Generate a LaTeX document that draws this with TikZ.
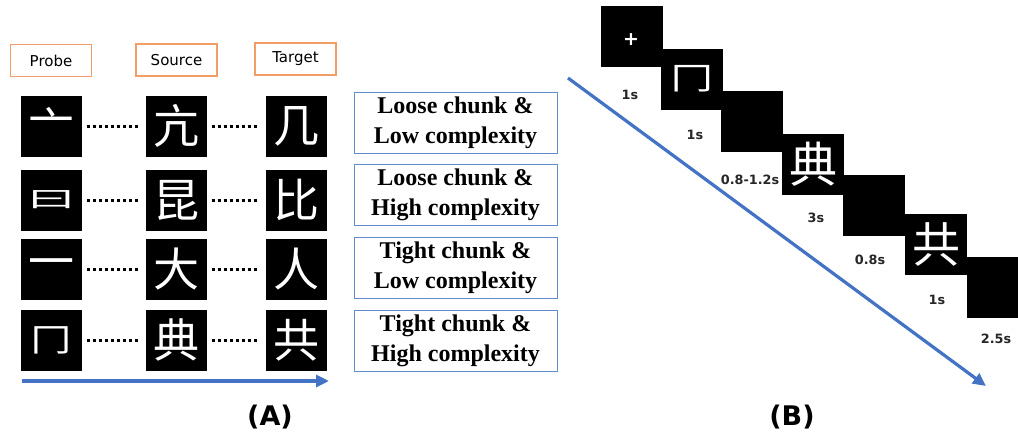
\documentclass[tikz,border=0pt]{standalone}
\usepackage{fontspec}
\setmainfont{Liberation Serif}
\newfontfamily\dvs{DejaVu Sans}
\newfontfamily\cjk{Noto Sans CJK SC}
\usetikzlibrary{arrows.meta}
\definecolor{arrowblue}{RGB}{68,114,196}
\definecolor{boxblue}{RGB}{100,140,205}
\definecolor{lblorange}{RGB}{241,157,101}
\tikzset{
  blk/.style={fill=black, text=white, inner sep=0pt, minimum width=61pt, minimum height=61pt, font=\cjk\fontsize{46}{46}\selectfont},
  tblk/.style={fill=black, text=white, inner sep=0pt, minimum width=62pt, minimum height=61pt, font=\cjk\fontsize{48}{48}\selectfont},
  lbl/.style={draw=lblorange, line width=1.3pt, inner sep=0pt, minimum width=81pt, minimum height=32pt, font=\dvs\fontsize{15}{15}\selectfont},
  cond/.style={draw=boxblue, line width=1pt, inner sep=0pt, minimum width=203pt, minimum height=61pt, align=center, font=\bfseries\fontsize{24}{30}\selectfont},
  dotline/.style={line width=3pt, dash pattern=on 3pt off 3pt, shorten <=5pt, shorten >=7pt},
  bluearrow/.style={draw=arrowblue, line width=3.2pt, -{Triangle[length=13pt,width=12pt]}},
  timelbl/.style={inner sep=0pt, text=black!85, font=\dvs\bfseries\fontsize{12.8}{12.8}\selectfont},
  panel/.style={inner sep=0pt, font=\dvs\bfseries\fontsize{27}{27}\selectfont},
}
\begin{document}
\begin{tikzpicture}[x=1pt,y=-1pt]
\useasboundingbox (0,0) rectangle (1018,437);

% ---------- (A) ----------
\node[lbl] (lp) at (51,60.5) {Probe};
\node[lbl] (ls) at (176.5,60) {Source};
\node[lbl] (lt) at (295.5,59) {Target};

\node[blk] (p1) at (51.5,126) {\raisebox{-4pt}{亠}};
\node[blk] (s1) at (176,126) {亢};
\node[blk] (t1) at (296,126) {几};

\node[blk] (p2) at (51.5,200) {\scalebox{1.05}[0.5]{曰}};
\node[blk] (s2) at (176,200) {昆};
\node[blk] (t2) at (296,200) {比};

\node[blk] (p3) at (51.5,269) {一};
\node[blk] (s3) at (176,269) {大};
\node[blk] (t3) at (296,269) {人};

\node[blk] (p4) at (51.5,340) {\scalebox{0.9}[0.7]{冂}};
\node[blk] (s4) at (176,340) {典};
\node[blk] (t4) at (296,340) {共};

\foreach \r in {1,2,3,4}{
  \draw[dotline] (p\r) -- (s\r);
  \draw[dotline] (s\r) -- (t\r);
}

\node[cond] (c1) at (455.5,123) {Loose chunk \&\\Low complexity};
\node[cond] (c2) at (455.5,195) {Loose chunk \&\\High complexity};
\node[cond] (c3) at (455.5,267.5) {Tight chunk \&\\Low complexity};
\node[cond] (c4) at (455.5,340.5) {Tight chunk \&\\High complexity};

\coordinate (a0) at (22,381);
\coordinate (a1) at (329,381);
\draw[bluearrow] (a0) -- (a1);
\node[panel] (pa) at (270,417) {(A)};

% ---------- (B) ----------
\node[tblk] (b1) at (632,36) {};
\node[text=white, inner sep=0pt, font=\dvs\bfseries\fontsize{19}{19}\selectfont] (plus) at (631,40) {+};
\node[tblk] (b2) at (692,79) {\scalebox{0.9}[0.65]{冂}};
\node[tblk] (b3) at (752,121) {};
\node[tblk] (b4) at (813,164) {典};
\node[tblk] (b5) at (874,205) {};
\node[tblk] (b6) at (936,244) {共};
\fill[black] (967,257) rectangle (1018,318);
\coordinate (b7) at (992,287);

\node[timelbl] (t1s) at (630,95) {1s};
\node[timelbl] (t2s) at (695,135) {1s};
\node[timelbl] (t3s) at (750,180) {0.8-1.2s};
\node[timelbl] (t4s) at (816,218) {3s};
\node[timelbl] (t5s) at (870,260) {0.8s};
\node[timelbl] (t6s) at (937,300) {1s};
\node[timelbl] (t7s) at (996,339) {2.5s};

\coordinate (d0) at (568,78);
\coordinate (d1) at (986,386);
\draw[bluearrow] (d0) -- (d1);
\node[panel] (pb) at (792,417) {(B)};
\end{tikzpicture}
\end{document}
